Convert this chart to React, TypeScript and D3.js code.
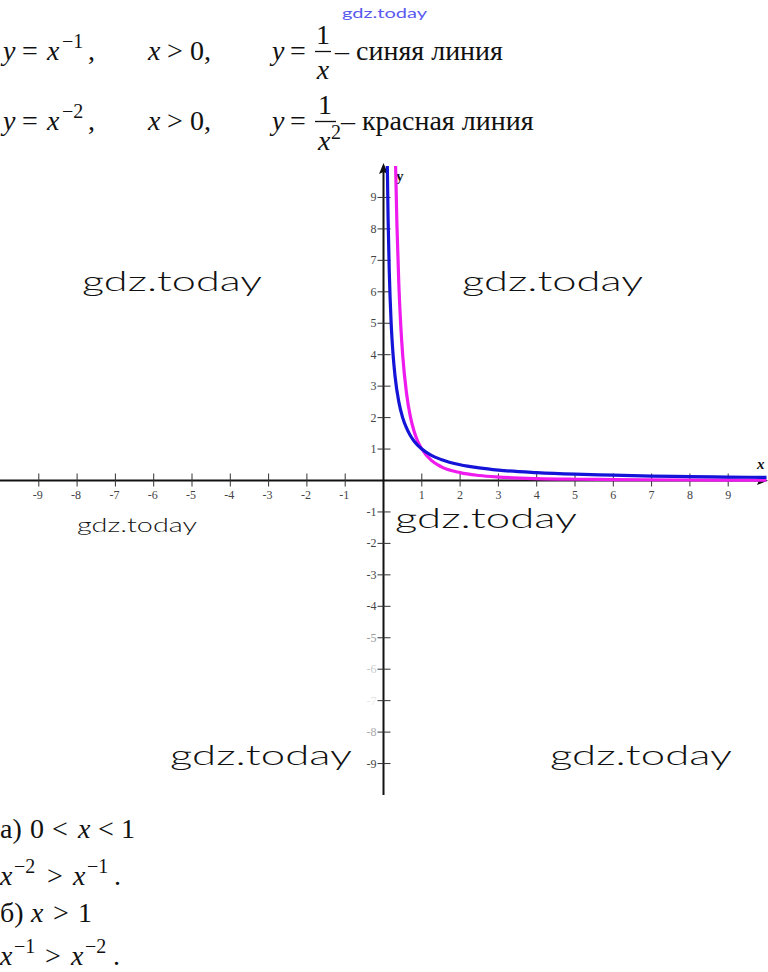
import React from "react";
import * as d3 from "d3";

const W = 768;
const H = 972;

const xTicks = [-9, -8, -7, -6, -5, -4, -3, -2, -1, 1, 2, 3, 4, 5, 6, 7, 8, 9];
const yTicks = [9, 8, 7, 6, 5, 4, 3, 2, 1, -1, -2, -3, -4, -5, -6, -7, -8, -9];
const yTickColors: Record<number, string> = { [-5]: "#999", [-6]: "#ccc", [-7]: "#e6e6e6", [-8]: "#aaa" };

// y = 1/x (blue)
const blueX = [0.1, 0.12, 0.15, 0.2, 0.25, 0.3, 0.4, 0.5, 0.6, 0.7, 0.8, 1, 1.25, 1.5, 2, 2.5, 3, 4, 5, 6, 7, 8, 9, 10];
const blueY = [10, 8.33, 6.67, 5, 4, 3.33, 2.5, 2, 1.67, 1.43, 1.25, 1, 0.8, 0.67, 0.5, 0.4, 0.33, 0.25, 0.2, 0.17, 0.14, 0.125, 0.11, 0.1];
// y = 1/x^2 (magenta)
const pinkX = [0.316, 0.35, 0.4, 0.45, 0.5, 0.6, 0.7, 0.8, 0.9, 1, 1.25, 1.5, 2, 2.5, 3, 4, 5, 6, 8, 10];
const pinkY = [10, 8.16, 6.25, 4.94, 4, 2.78, 2.04, 1.56, 1.23, 1, 0.64, 0.44, 0.25, 0.16, 0.11, 0.06, 0.04, 0.03, 0.016, 0.01];

const watermarks = [
  { x: 82, y: 291, w: 180, size: 28 },
  { x: 462, y: 291, w: 181, size: 28 },
  { x: 77, y: 532, w: 120, size: 19 },
  { x: 395, y: 528, w: 182, size: 28 },
  { x: 170, y: 765, w: 182, size: 28 },
  { x: 550, y: 765, w: 182, size: 28 },
];

export default function App() {
  const x = d3.scaleLinear().domain([-10, 10]).range([0.5, 766.5]);
  const y = d3.scaleLinear().domain([-10, 10]).range([795, 166]);
  const x0 = x(0);
  const y0 = y(0);

  const line = d3
    .line<[number, number]>()
    .x((d) => x(d[0]))
    .y((d) => y(d[1]))
    .curve(d3.curveMonotoneX);

  const blue = line(blueX.map((v, i) => [v, blueY[i]] as [number, number])) || "";
  const pink = line(pinkX.map((v, i) => [v, pinkY[i]] as [number, number])) || "";

  const serif = "'Liberation Serif', 'Times New Roman', serif";
  const gothic = "Lato, 'Noto Sans', sans-serif";
  const fs = 28;
  const sup = 20;

  const T = (props: any) => <text {...props} />;

  const formulaRow = (yb: number, pow: string, label: string, denomSup: boolean) => (
    <g fontFamily={serif} fontSize={fs} fill="#111">
      <T x={3} y={yb} fontStyle="italic">y</T>
      <T x={22} y={yb}>=</T>
      <T x={47} y={yb} fontStyle="italic">x</T>
      <T x={62} y={yb - 12} fontSize={sup}>{pow}</T>
      <T x={88} y={yb}>,</T>
      <T x={148} y={yb} fontStyle="italic">x</T>
      <T x={167} y={yb}>&gt;</T>
      <T x={190} y={yb}>0,</T>
      <T x={272} y={yb} fontStyle="italic">y</T>
      <T x={290} y={yb}>=</T>
      <T x={denomSup ? 325 : 323} y={yb - 16} textAnchor="middle">1</T>
      <line x1={315} x2={denomSup ? 336 : 331} y1={yb - 8.5} y2={yb - 8.5} stroke="#111" strokeWidth={1.3} />
      {denomSup ? (
        <>
          <T x={318} y={yb + 20} fontStyle="italic">x</T>
          <T x={331} y={yb + 9} fontSize={sup}>2</T>
        </>
      ) : (
        <T x={323} y={yb + 19} textAnchor="middle" fontStyle="italic">x</T>
      )}
      <T x={denomSup ? 341 : 335} y={yb}>– {label}</T>
    </g>
  );

  return (
    <svg
      width={W}
      height={H}
      viewBox={`0 0 ${W} ${H}`}
      style={{ position: "absolute", left: 0, top: 0, background: "#fff" }}
    >
      <rect x={0} y={0} width={W} height={H} fill="#fff" />
      <defs>
        <clipPath id="plotclip">
          <rect x={x0} y={163} width={W - x0} height={y0 - 163 + 10} />
        </clipPath>
      </defs>

      {/* top small watermark */}
      <text x={342} y={18} fontFamily={gothic} fontSize={14} fill="#5a5af0" textLength={85} lengthAdjust="spacingAndGlyphs">
        gdz.today
      </text>

      {formulaRow(60, "−1", "синяя линия", false)}
      {formulaRow(130, "−2", "красная линия", true)}

      {/* watermarks */}
      {watermarks.map((wm, i) => (
        <text
          key={i}
          x={wm.x}
          y={wm.y}
          fontFamily={gothic}
          fontWeight={300}
          fontSize={wm.size}
          fill="#111"
          textLength={wm.w}
          lengthAdjust="spacingAndGlyphs"
        >
          gdz.today
        </text>
      ))}

      {/* x axis */}
      <line x1={0} x2={760} y1={y0} y2={y0} stroke="#111" strokeWidth={2} />
      <path d={`M768,${y0} L757,${y0 - 4.5} L759,${y0} L757,${y0 + 4.5} Z`} fill="#111" />
      {xTicks.map((t) => (
        <g key={`xt${t}`}>
          <line x1={x(t)} x2={x(t)} y1={y0 - 7} y2={y0 + 6} stroke="#333" strokeWidth={1} />
          <text
            x={x(t) + (t < 0 ? -1 : 0)}
            y={y0 + 18}
            textAnchor="middle"
            fontFamily={serif}
            fontSize={12}
            fill="#444"
          >
            {t < 0 ? `-${-t}` : `${t}`}
          </text>
        </g>
      ))}
      <text x={757} y={469} fontFamily={serif} fontSize={15} fontWeight="bold" fontStyle="italic" fill="#111">
        x
      </text>

      {/* y axis */}
      <line x1={x0} x2={x0} y1={172} y2={795} stroke="#111" strokeWidth={2} />
      <path d={`M${x0},163 L${x0 - 4.5},174 L${x0},172 L${x0 + 4.5},174 Z`} fill="#111" />
      {yTicks.map((t) => (
        <g key={`yt${t}`}>
          <line x1={x0 - 6} x2={x0 + 7} y1={y(t)} y2={y(t)} stroke="#333" strokeWidth={1} />
          <text
            x={x0 - 7}
            y={y(t) + 4}
            textAnchor="end"
            fontFamily={serif}
            fontSize={12}
            fill={yTickColors[t] || "#444"}
          >
            {t < 0 ? `-${-t}` : `${t}`}
          </text>
        </g>
      ))}
      <text x={396} y={181} fontFamily={serif} fontSize={15} fontWeight="bold" fill="#111">
        y
      </text>

      {/* curves */}
      <g clipPath="url(#plotclip)">
        <path d={pink} fill="none" stroke="#ee1aee" strokeWidth={3.2} />
        <path d={blue} fill="none" stroke="#1414d8" strokeWidth={3.2} />
      </g>

      {/* bottom text */}
      <g fontFamily={serif} fontSize={fs} fill="#111">
        <T x={0} y={838}>а)</T>
        <T x={30} y={838}>0</T>
        <T x={52} y={838}>&lt;</T>
        <T x={78} y={838} fontStyle="italic">x</T>
        <T x={98} y={838}>&lt;</T>
        <T x={121} y={838}>1</T>

        <T x={0} y={885} fontStyle="italic">x</T>
        <T x={14} y={873} fontSize={sup}>−2</T>
        <T x={47} y={885}>&gt;</T>
        <T x={73} y={885} fontStyle="italic">x</T>
        <T x={87} y={873} fontSize={sup}>−1</T>
        <T x={114} y={885}>.</T>

        <T x={0} y={922}>б)</T>
        <T x={31} y={922} fontStyle="italic">x</T>
        <T x={53} y={922}>&gt;</T>
        <T x={78} y={922}>1</T>

        <T x={0} y={965} fontStyle="italic">x</T>
        <T x={14} y={953} fontSize={sup}>−1</T>
        <T x={45} y={965}>&gt;</T>
        <T x={71} y={965} fontStyle="italic">x</T>
        <T x={85} y={953} fontSize={sup}>−2</T>
        <T x={113} y={965}>.</T>
      </g>
    </svg>
  );
}
